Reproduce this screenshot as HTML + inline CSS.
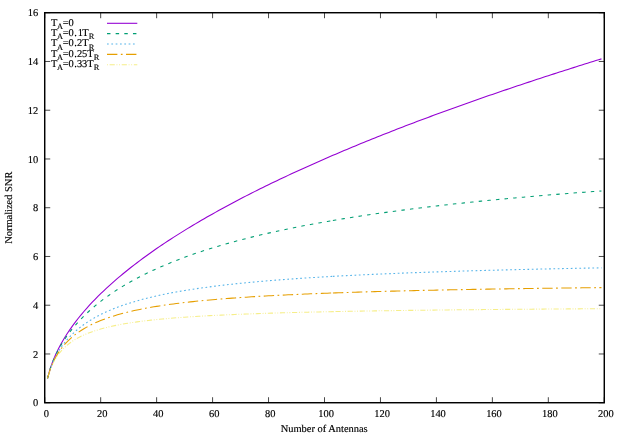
<!DOCTYPE html>
<html><head><meta charset="utf-8"><title>Normalized SNR</title>
<style>
html,body{margin:0;padding:0;background:#fff;}
body{width:623px;height:436px;overflow:hidden;}
svg{display:block;will-change:transform;}
text{font-family:"Liberation Serif",serif;fill:#000;text-rendering:geometricPrecision;stroke:#000;stroke-width:0.15px;}
</style></head><body>
<svg width="623" height="436" viewBox="0 0 623 436">
<rect x="0" y="0" width="623" height="436" fill="#ffffff"/>
<g stroke="#000" stroke-width="0.72" fill="none" stroke-linecap="butt">
<path d="M44.72 402.72h5.5 M604.28 402.72h-5.5"/>
<path d="M44.72 353.97h5.5 M604.28 353.97h-5.5"/>
<path d="M44.72 305.22h5.5 M604.28 305.22h-5.5"/>
<path d="M44.72 256.47h5.5 M604.28 256.47h-5.5"/>
<path d="M44.72 207.72h5.5 M604.28 207.72h-5.5"/>
<path d="M44.72 158.97h5.5 M604.28 158.97h-5.5"/>
<path d="M44.72 110.22h5.5 M604.28 110.22h-5.5"/>
<path d="M44.72 61.47h5.5 M604.28 61.47h-5.5"/>
<path d="M44.72 12.72h5.5 M604.28 12.72h-5.5"/>
<path d="M44.72 402.72v-5.5 M44.72 12.72v5.5"/>
<path d="M100.68 402.72v-5.5 M100.68 12.72v5.5"/>
<path d="M156.63 402.72v-5.5 M156.63 12.72v5.5"/>
<path d="M212.59 402.72v-5.5 M212.59 12.72v5.5"/>
<path d="M268.54 402.72v-5.5 M268.54 12.72v5.5"/>
<path d="M324.50 402.72v-5.5 M324.50 12.72v5.5"/>
<path d="M380.46 402.72v-5.5 M380.46 12.72v5.5"/>
<path d="M436.41 402.72v-5.5 M436.41 12.72v5.5"/>
<path d="M492.37 402.72v-5.5 M492.37 12.72v5.5"/>
<path d="M548.32 402.72v-5.5 M548.32 12.72v5.5"/>
<path d="M604.28 402.72v-5.5 M604.28 12.72v5.5"/>
</g>
<g font-size="10.45px">
<text x="38.2" y="406.32" text-anchor="end">0</text>
<text x="38.2" y="357.57" text-anchor="end">2</text>
<text x="38.2" y="308.82" text-anchor="end">4</text>
<text x="38.2" y="260.07" text-anchor="end">6</text>
<text x="38.2" y="211.32" text-anchor="end">8</text>
<text x="38.2" y="162.57" text-anchor="end">10</text>
<text x="38.2" y="113.82" text-anchor="end">12</text>
<text x="38.2" y="65.07" text-anchor="end">14</text>
<text x="38.2" y="16.32" text-anchor="end">16</text>
<text x="46.32" y="416.9" text-anchor="middle">0</text>
<text x="102.28" y="416.9" text-anchor="middle">20</text>
<text x="158.23" y="416.9" text-anchor="middle">40</text>
<text x="214.19" y="416.9" text-anchor="middle">60</text>
<text x="270.14" y="416.9" text-anchor="middle">80</text>
<text x="326.10" y="416.9" text-anchor="middle">100</text>
<text x="382.06" y="416.9" text-anchor="middle">120</text>
<text x="438.01" y="416.9" text-anchor="middle">140</text>
<text x="493.97" y="416.9" text-anchor="middle">160</text>
<text x="549.92" y="416.9" text-anchor="middle">180</text>
<text x="605.88" y="416.9" text-anchor="middle">200</text>
<text x="324.20" y="431.8" text-anchor="middle">Number of Antennas</text>
<text transform="translate(12.3 207.72) rotate(-90)" text-anchor="middle">Normalized SNR</text>
<text><tspan x="51.00" y="25.60">T</tspan><tspan x="56.90" y="28.90" font-size="8.36px">A</tspan><tspan x="62.80" y="25.60">=</tspan><tspan x="68.50" y="25.60">0</tspan></text>
<text><tspan x="51.00" y="35.95">T</tspan><tspan x="56.90" y="39.25" font-size="8.36px">A</tspan><tspan x="62.80" y="35.95">=</tspan><tspan x="68.50" y="35.95">0</tspan><tspan x="74.20" y="35.95">.</tspan><tspan x="77.75" y="35.95">1</tspan><tspan x="82.30" y="35.95">T</tspan><tspan x="88.75" y="39.25" font-size="8.36px">R</tspan></text>
<text><tspan x="51.00" y="46.30">T</tspan><tspan x="56.90" y="49.60" font-size="8.36px">A</tspan><tspan x="62.80" y="46.30">=</tspan><tspan x="68.50" y="46.30">0</tspan><tspan x="74.20" y="46.30">.</tspan><tspan x="77.00" y="46.30">2</tspan><tspan x="82.30" y="46.30">T</tspan><tspan x="88.75" y="49.60" font-size="8.36px">R</tspan></text>
<text><tspan x="51.00" y="56.65">T</tspan><tspan x="56.90" y="59.95" font-size="8.36px">A</tspan><tspan x="62.80" y="56.65">=</tspan><tspan x="68.50" y="56.65">0</tspan><tspan x="74.20" y="56.65">.</tspan><tspan x="76.90" y="56.65">2</tspan><tspan x="82.00" y="56.65">5</tspan><tspan x="87.20" y="56.65">T</tspan><tspan x="93.65" y="59.95" font-size="8.36px">R</tspan></text>
<text><tspan x="51.00" y="67.00">T</tspan><tspan x="56.90" y="70.30" font-size="8.36px">A</tspan><tspan x="62.80" y="67.00">=</tspan><tspan x="68.50" y="67.00">0</tspan><tspan x="74.20" y="67.00">.</tspan><tspan x="77.00" y="67.00">3</tspan><tspan x="82.10" y="67.00">3</tspan><tspan x="87.20" y="67.00">T</tspan><tspan x="93.65" y="70.30" font-size="8.36px">R</tspan></text>
</g>
<g fill="none" stroke-width="1.08" stroke-linejoin="round" stroke-linecap="butt">
<polyline stroke="#9400d3" points="47.52,378.35 50.32,368.25 53.11,360.50 55.91,353.97 58.71,348.22 61.51,343.01 64.30,338.23 67.10,333.78 69.90,329.60 72.70,325.64 75.50,321.88 78.29,318.28 81.09,314.83 83.89,311.52 86.69,308.32 89.48,305.22 92.28,302.22 95.08,299.31 97.88,296.47 100.68,293.71 103.47,291.02 106.27,288.39 109.07,285.82 111.87,283.31 114.66,280.85 117.46,278.43 120.26,276.06 123.06,273.74 125.86,271.46 128.65,269.21 131.45,267.01 134.25,264.83 137.05,262.70 139.85,260.59 142.64,258.52 145.44,256.47 148.24,254.45 151.04,252.46 153.83,250.50 156.63,248.56 159.43,246.64 162.23,244.75 165.03,242.88 167.82,241.03 170.62,239.21 173.42,237.40 176.22,235.61 179.01,233.85 181.81,232.10 184.61,230.36 187.41,228.65 190.21,226.95 193.00,225.27 195.80,223.60 198.60,221.95 201.40,220.31 204.19,218.69 206.99,217.09 209.79,215.49 212.59,213.91 215.39,212.35 218.18,210.79 220.98,209.25 223.78,207.72 226.58,206.20 229.37,204.70 232.17,203.20 234.97,201.72 237.77,200.25 240.57,198.78 243.36,197.33 246.16,195.89 248.96,194.46 251.76,193.04 254.55,191.63 257.35,190.22 260.15,188.83 262.95,187.45 265.75,186.07 268.54,184.70 271.34,183.35 274.14,181.99 276.94,180.65 279.74,179.32 282.53,177.99 285.33,176.68 288.13,175.37 290.93,174.06 293.72,172.77 296.52,171.48 299.32,170.20 302.12,168.92 304.92,167.66 307.71,166.40 310.51,165.14 313.31,163.89 316.11,162.65 318.90,161.42 321.70,160.19 324.50,158.97 327.30,157.75 330.10,156.54 332.89,155.34 335.69,154.14 338.49,152.95 341.29,151.76 344.08,150.58 346.88,149.41 349.68,148.24 352.48,147.07 355.28,145.91 358.07,144.76 360.87,143.61 363.67,142.47 366.47,141.33 369.26,140.19 372.06,139.06 374.86,137.94 377.66,136.82 380.46,135.71 383.25,134.60 386.05,133.49 388.85,132.39 391.65,131.29 394.44,130.20 397.24,129.11 400.04,128.03 402.84,126.95 405.64,125.87 408.43,124.80 411.23,123.74 414.03,122.67 416.83,121.61 419.63,120.56 422.42,119.51 425.22,118.46 428.02,117.42 430.82,116.38 433.61,115.34 436.41,114.31 439.21,113.28 442.01,112.26 444.81,111.24 447.60,110.22 450.40,109.21 453.20,108.20 456.00,107.19 458.79,106.19 461.59,105.19 464.39,104.19 467.19,103.19 469.99,102.20 472.78,101.22 475.58,100.23 478.38,99.25 481.18,98.28 483.97,97.30 486.77,96.33 489.57,95.36 492.37,94.40 495.17,93.44 497.96,92.48 500.76,91.52 503.56,90.57 506.36,89.62 509.15,88.67 511.95,87.73 514.75,86.78 517.55,85.85 520.35,84.91 523.14,83.98 525.94,83.04 528.74,82.12 531.54,81.19 534.33,80.27 537.13,79.35 539.93,78.43 542.73,77.52 545.53,76.60 548.32,75.70 551.12,74.79 553.92,73.88 556.72,72.98 559.52,72.08 562.31,71.18 565.11,70.29 567.91,69.40 570.71,68.51 573.50,67.62 576.30,66.73 579.10,65.85 581.90,64.97 584.70,64.09 587.49,63.22 590.29,62.34 593.09,61.47 595.89,60.60 598.68,59.73 601.48,58.87"/>
<path stroke="#9400d3" d="M107.0 23.30H137.3"/>
<polyline stroke="#009e73" stroke-dasharray="3.461 5.192" stroke-dashoffset="0" points="47.52,378.35 50.32,368.39 53.11,360.85 55.91,354.56 58.71,349.10 61.51,344.21 64.30,339.77 67.10,335.69 69.90,331.90 72.70,328.36 75.50,325.02 78.29,321.88 81.09,318.89 83.89,316.05 86.69,313.35 89.48,310.75 92.28,308.27 95.08,305.88 97.88,303.59 100.68,301.38 103.47,299.24 106.27,297.18 109.07,295.19 111.87,293.26 114.66,291.39 117.46,289.57 120.26,287.81 123.06,286.10 125.86,284.43 128.65,282.81 131.45,281.23 134.25,279.70 137.05,278.20 139.85,276.74 142.64,275.31 145.44,273.92 148.24,272.56 151.04,271.23 153.83,269.93 156.63,268.66 159.43,267.41 162.23,266.20 165.03,265.01 167.82,263.84 170.62,262.70 173.42,261.58 176.22,260.48 179.01,259.40 181.81,258.35 184.61,257.31 187.41,256.29 190.21,255.29 193.00,254.31 195.80,253.35 198.60,252.41 201.40,251.48 204.19,250.56 206.99,249.67 209.79,248.79 212.59,247.92 215.39,247.07 218.18,246.23 220.98,245.40 223.78,244.59 226.58,243.79 229.37,243.00 232.17,242.23 234.97,241.47 237.77,240.71 240.57,239.97 243.36,239.25 246.16,238.53 248.96,237.82 251.76,237.12 254.55,236.44 257.35,235.76 260.15,235.09 262.95,234.43 265.75,233.78 268.54,233.14 271.34,232.51 274.14,231.89 276.94,231.27 279.74,230.67 282.53,230.07 285.33,229.48 288.13,228.90 290.93,228.32 293.72,227.75 296.52,227.19 299.32,226.64 302.12,226.09 304.92,225.55 307.71,225.02 310.51,224.49 313.31,223.97 316.11,223.46 318.90,222.95 321.70,222.45 324.50,221.95 327.30,221.46 330.10,220.98 332.89,220.50"/>
<polyline stroke="#009e73" stroke-dasharray="3.461 5.192" stroke-dashoffset="0" points="332.89,220.50 335.69,220.02 338.49,219.56 341.29,219.09 344.08,218.64 346.88,218.18 349.68,217.74 352.48,217.29 355.28,216.86 358.07,216.42 360.87,216.00 363.67,215.57 366.47,215.15 369.26,214.74 372.06,214.33 374.86,213.93 377.66,213.52 380.46,213.13 383.25,212.73 386.05,212.35 388.85,211.96 391.65,211.58 394.44,211.20 397.24,210.83 400.04,210.46 402.84,210.09 405.64,209.73 408.43,209.37 411.23,209.02 414.03,208.67 416.83,208.32 419.63,207.97 422.42,207.63 425.22,207.29 428.02,206.96 430.82,206.62 433.61,206.30 436.41,205.97 439.21,205.65 442.01,205.33 444.81,205.01 447.60,204.70 450.40,204.39 453.20,204.08 456.00,203.77 458.79,203.47 461.59,203.17 464.39,202.87 467.19,202.58 469.99,202.28 472.78,201.99 475.58,201.71 478.38,201.42 481.18,201.14 483.97,200.86 486.77,200.58 489.57,200.31 492.37,200.04 495.17,199.77 497.96,199.50 500.76,199.23 503.56,198.97 506.36,198.71 509.15,198.45 511.95,198.19 514.75,197.94 517.55,197.68 520.35,197.43 523.14,197.18 525.94,196.94 528.74,196.69 531.54,196.45 534.33,196.21 537.13,195.97 539.93,195.73 542.73,195.50 545.53,195.26 548.32,195.03 551.12,194.80 553.92,194.57 556.72,194.35 559.52,194.12 562.31,193.90 565.11,193.68 567.91,193.46 570.71,193.24 573.50,193.02 576.30,192.81 579.10,192.60 581.90,192.39 584.70,192.18 587.49,191.97 590.29,191.76 593.09,191.56 595.89,191.35 598.68,191.15 601.48,190.95"/>
<path stroke="#009e73" stroke-dasharray="3.461 5.192" stroke-dashoffset="0" d="M107.0 33.65H137.3"/>
<polyline stroke="#56b4e9" stroke-dasharray="1.731 2.596" stroke-dashoffset="0" points="47.52,378.35 50.32,368.72 53.11,361.63 55.91,355.88 58.71,351.01 61.51,346.77 64.30,343.01 67.10,339.64 69.90,336.58 72.70,333.78 75.50,331.20 78.29,328.82 81.09,326.61 83.89,324.55 86.69,322.62 89.48,320.80 92.28,319.10 95.08,317.49 97.88,315.97 100.68,314.53 103.47,313.16 106.27,311.86 109.07,310.62 111.87,309.44 114.66,308.32 117.46,307.24 120.26,306.21 123.06,305.22 125.86,304.27 128.65,303.36 131.45,302.49 134.25,301.65 137.05,300.84 139.85,300.06 142.64,299.31 145.44,298.58 148.24,297.88 151.04,297.20 153.83,296.55 156.63,295.91 159.43,295.30 162.23,294.71 165.03,294.13 167.82,293.57 170.62,293.03 173.42,292.51 176.22,292.00 179.01,291.50 181.81,291.02 184.61,290.55 187.41,290.10 190.21,289.65 193.00,289.22 195.80,288.80 198.60,288.39 201.40,287.99 204.19,287.60 206.99,287.22 209.79,286.85 212.59,286.49 215.39,286.14 218.18,285.80 220.98,285.46 223.78,285.13 226.58,284.81 229.37,284.50 232.17,284.19 234.97,283.89 237.77,283.59 240.57,283.31 243.36,283.03 246.16,282.75 248.96,282.48 251.76,282.22 254.55,281.96 257.35,281.70 260.15,281.46 262.95,281.21 265.75,280.97 268.54,280.74 271.34,280.51 274.14,280.28 276.94,280.06 279.74,279.85 282.53,279.63 285.33,279.42 288.13,279.22 290.93,279.02 293.72,278.82 296.52,278.62 299.32,278.43 302.12,278.24 304.92,278.06 307.71,277.88 310.51,277.70 313.31,277.52 316.11,277.35 318.90,277.18 321.70,277.01 324.50,276.85 327.30,276.69 330.10,276.53 332.89,276.37"/>
<polyline stroke="#56b4e9" stroke-dasharray="1.731 2.596" stroke-dashoffset="0" points="332.89,276.37 335.69,276.22 338.49,276.06 341.29,275.91 344.08,275.77 346.88,275.62 349.68,275.48 352.48,275.34 355.28,275.20 358.07,275.06 360.87,274.93 363.67,274.80 366.47,274.66 369.26,274.54 372.06,274.41 374.86,274.28 377.66,274.16 380.46,274.04 383.25,273.92 386.05,273.80 388.85,273.68 391.65,273.57 394.44,273.45 397.24,273.34 400.04,273.23 402.84,273.12 405.64,273.01 408.43,272.90 411.23,272.80 414.03,272.70 416.83,272.59 419.63,272.49 422.42,272.39 425.22,272.29 428.02,272.20 430.82,272.10 433.61,272.00 436.41,271.91 439.21,271.82 442.01,271.73 444.81,271.63 447.60,271.55 450.40,271.46 453.20,271.37 456.00,271.28 458.79,271.20 461.59,271.11 464.39,271.03 467.19,270.95 469.99,270.86 472.78,270.78 475.58,270.70 478.38,270.63 481.18,270.55 483.97,270.47 486.77,270.39 489.57,270.32 492.37,270.24 495.17,270.17 497.96,270.10 500.76,270.02 503.56,269.95 506.36,269.88 509.15,269.81 511.95,269.74 514.75,269.67 517.55,269.61 520.35,269.54 523.14,269.47 525.94,269.41 528.74,269.34 531.54,269.28 534.33,269.21 537.13,269.15 539.93,269.09 542.73,269.02 545.53,268.96 548.32,268.90 551.12,268.84 553.92,268.78 556.72,268.72 559.52,268.67 562.31,268.61 565.11,268.55 567.91,268.49 570.71,268.44 573.50,268.38 576.30,268.33 579.10,268.27 581.90,268.22 584.70,268.16 587.49,268.11 590.29,268.06 593.09,268.00 595.89,267.95 598.68,267.90 601.48,267.85"/>
<path stroke="#56b4e9" stroke-dasharray="1.731 2.596" stroke-dashoffset="0" d="M107.0 44.00H137.3"/>
<polyline stroke="#e69f00" stroke-dasharray="10.384 3.461 1.731 3.461" stroke-dashoffset="0" points="47.52,378.35 50.32,368.92 53.11,362.10 55.91,356.66 58.71,352.11 61.51,348.22 64.30,344.81 67.10,341.78 69.90,339.07 72.70,336.62 75.50,334.40 78.29,332.36 81.09,330.48 83.89,328.74 86.69,327.14 89.48,325.64 92.28,324.24 95.08,322.93 97.88,321.71 100.68,320.55 103.47,319.46 106.27,318.44 109.07,317.46 111.87,316.54 114.66,315.67 117.46,314.83 120.26,314.04 123.06,313.29 125.86,312.57 128.65,311.88 131.45,311.22 134.25,310.59 137.05,309.99 139.85,309.41 142.64,308.85 145.44,308.32 148.24,307.80 151.04,307.31 153.83,306.83 156.63,306.37 159.43,305.93 162.23,305.50 165.03,305.08 167.82,304.68 170.62,304.30 173.42,303.92 176.22,303.56 179.01,303.21 181.81,302.87 184.61,302.54 187.41,302.22 190.21,301.91 193.00,301.61 195.80,301.31 198.60,301.03 201.40,300.75 204.19,300.48 206.99,300.22 209.79,299.97 212.59,299.72 215.39,299.47 218.18,299.24 220.98,299.01 223.78,298.78 226.58,298.57 229.37,298.35 232.17,298.14 234.97,297.94 237.77,297.74 240.57,297.55 243.36,297.36 246.16,297.17 248.96,296.99 251.76,296.81 254.55,296.64 257.35,296.47 260.15,296.31 262.95,296.14 265.75,295.98 268.54,295.83 271.34,295.68 274.14,295.53 276.94,295.38 279.74,295.24 282.53,295.10 285.33,294.96 288.13,294.82 290.93,294.69 293.72,294.56 296.52,294.43 299.32,294.31 302.12,294.18 304.92,294.06 307.71,293.94 310.51,293.83 313.31,293.71 316.11,293.60 318.90,293.49 321.70,293.38 324.50,293.27 327.30,293.17 330.10,293.06 332.89,292.96"/>
<polyline stroke="#e69f00" stroke-dasharray="10.384 3.461 1.731 3.461" stroke-dashoffset="0" points="332.89,292.96 335.69,292.86 338.49,292.77 341.29,292.67 344.08,292.57 346.88,292.48 349.68,292.39 352.48,292.30 355.28,292.21 358.07,292.12 360.87,292.03 363.67,291.95 366.47,291.86 369.26,291.78 372.06,291.70 374.86,291.62 377.66,291.54 380.46,291.46 383.25,291.39 386.05,291.31 388.85,291.24 391.65,291.16 394.44,291.09 397.24,291.02 400.04,290.95 402.84,290.88 405.64,290.81 408.43,290.74 411.23,290.68 414.03,290.61 416.83,290.55 419.63,290.48 422.42,290.42 425.22,290.36 428.02,290.30 430.82,290.23 433.61,290.17 436.41,290.12 439.21,290.06 442.01,290.00 444.81,289.94 447.60,289.89 450.40,289.83 453.20,289.78 456.00,289.72 458.79,289.67 461.59,289.61 464.39,289.56 467.19,289.51 469.99,289.46 472.78,289.41 475.58,289.36 478.38,289.31 481.18,289.26 483.97,289.21 486.77,289.16 489.57,289.12 492.37,289.07 495.17,289.02 497.96,288.98 500.76,288.93 503.56,288.89 506.36,288.85 509.15,288.80 511.95,288.76 514.75,288.72 517.55,288.67 520.35,288.63 523.14,288.59 525.94,288.55 528.74,288.51 531.54,288.47 534.33,288.43 537.13,288.39 539.93,288.35 542.73,288.31 545.53,288.28 548.32,288.24 551.12,288.20 553.92,288.16 556.72,288.13 559.52,288.09 562.31,288.06 565.11,288.02 567.91,287.99 570.71,287.95 573.50,287.92 576.30,287.88 579.10,287.85 581.90,287.82 584.70,287.78 587.49,287.75 590.29,287.72 593.09,287.68 595.89,287.65 598.68,287.62 601.48,287.59"/>
<path stroke="#e69f00" stroke-dasharray="10.384 3.461 1.731 3.461" stroke-dashoffset="0" d="M107.0 54.35H137.3"/>
<polyline stroke="#f0e442" stroke-dasharray="0.865 1.731 5.192 1.731 0.865 1.731" stroke-dashoffset="0" stroke-opacity="0.62" points="47.52,378.35 50.32,369.28 53.11,362.92 55.91,357.98 58.71,353.97 61.51,350.60 64.30,347.72 67.10,345.22 69.90,343.01 72.70,341.06 75.50,339.30 78.29,337.72 81.09,336.28 83.89,334.98 86.69,333.78 89.48,332.67 92.28,331.66 95.08,330.71 97.88,329.83 100.68,329.02 103.47,328.25 106.27,327.54 109.07,326.87 111.87,326.23 114.66,325.64 117.46,325.08 120.26,324.55 123.06,324.04 125.86,323.57 128.65,323.11 131.45,322.68 134.25,322.27 137.05,321.88 139.85,321.50 142.64,321.15 145.44,320.80 148.24,320.48 151.04,320.16 153.83,319.86 156.63,319.57 159.43,319.29 162.23,319.03 165.03,318.77 167.82,318.52 170.62,318.28 173.42,318.05 176.22,317.83 179.01,317.62 181.81,317.41 184.61,317.21 187.41,317.01 190.21,316.82 193.00,316.64 195.80,316.47 198.60,316.30 201.40,316.13 204.19,315.97 206.99,315.81 209.79,315.66 212.59,315.51 215.39,315.37 218.18,315.23 220.98,315.10 223.78,314.96 226.58,314.83 229.37,314.71 232.17,314.59 234.97,314.47 237.77,314.35 240.57,314.24 243.36,314.13 246.16,314.02 248.96,313.92 251.76,313.82 254.55,313.72 257.35,313.62 260.15,313.52 262.95,313.43 265.75,313.34 268.54,313.25 271.34,313.16 274.14,313.08 276.94,312.99 279.74,312.91 282.53,312.83 285.33,312.75 288.13,312.67 290.93,312.60 293.72,312.52 296.52,312.45 299.32,312.38 302.12,312.31 304.92,312.24 307.71,312.18 310.51,312.11 313.31,312.05 316.11,311.98 318.90,311.92 321.70,311.86 324.50,311.80 327.30,311.74 330.10,311.68 332.89,311.63"/>
<polyline stroke="#f0e442" stroke-dasharray="0.865 1.731 5.192 1.731 0.865 1.731" stroke-dashoffset="0" stroke-opacity="0.62" points="332.89,311.63 335.69,311.57 338.49,311.52 341.29,311.46 344.08,311.41 346.88,311.36 349.68,311.31 352.48,311.26 355.28,311.21 358.07,311.16 360.87,311.11 363.67,311.06 366.47,311.02 369.26,310.97 372.06,310.93 374.86,310.88 377.66,310.84 380.46,310.80 383.25,310.75 386.05,310.71 388.85,310.67 391.65,310.63 394.44,310.59 397.24,310.55 400.04,310.51 402.84,310.48 405.64,310.44 408.43,310.40 411.23,310.36 414.03,310.33 416.83,310.29 419.63,310.26 422.42,310.22 425.22,310.19 428.02,310.16 430.82,310.12 433.61,310.09 436.41,310.06 439.21,310.03 442.01,309.99 444.81,309.96 447.60,309.93 450.40,309.90 453.20,309.87 456.00,309.84 458.79,309.81 461.59,309.79 464.39,309.76 467.19,309.73 469.99,309.70 472.78,309.67 475.58,309.65 478.38,309.62 481.18,309.59 483.97,309.57 486.77,309.54 489.57,309.52 492.37,309.49 495.17,309.47 497.96,309.44 500.76,309.42 503.56,309.39 506.36,309.37 509.15,309.35 511.95,309.32 514.75,309.30 517.55,309.28 520.35,309.26 523.14,309.23 525.94,309.21 528.74,309.19 531.54,309.17 534.33,309.15 537.13,309.13 539.93,309.11 542.73,309.09 545.53,309.07 548.32,309.05 551.12,309.03 553.92,309.01 556.72,308.99 559.52,308.97 562.31,308.95 565.11,308.93 567.91,308.91 570.71,308.89 573.50,308.87 576.30,308.85 579.10,308.84 581.90,308.82 584.70,308.80 587.49,308.78 590.29,308.77 593.09,308.75 595.89,308.73 598.68,308.72 601.48,308.70"/>
<path stroke="#f0e442" stroke-dasharray="0.865 1.731 5.192 1.731 0.865 1.731" stroke-dashoffset="0" stroke-opacity="0.62" d="M107.0 64.70H137.3"/>
</g>
<rect x="44.72" y="12.72" width="559.56" height="390.0" fill="none" stroke="#000" stroke-width="1.45"/>
</svg>
</body></html>
